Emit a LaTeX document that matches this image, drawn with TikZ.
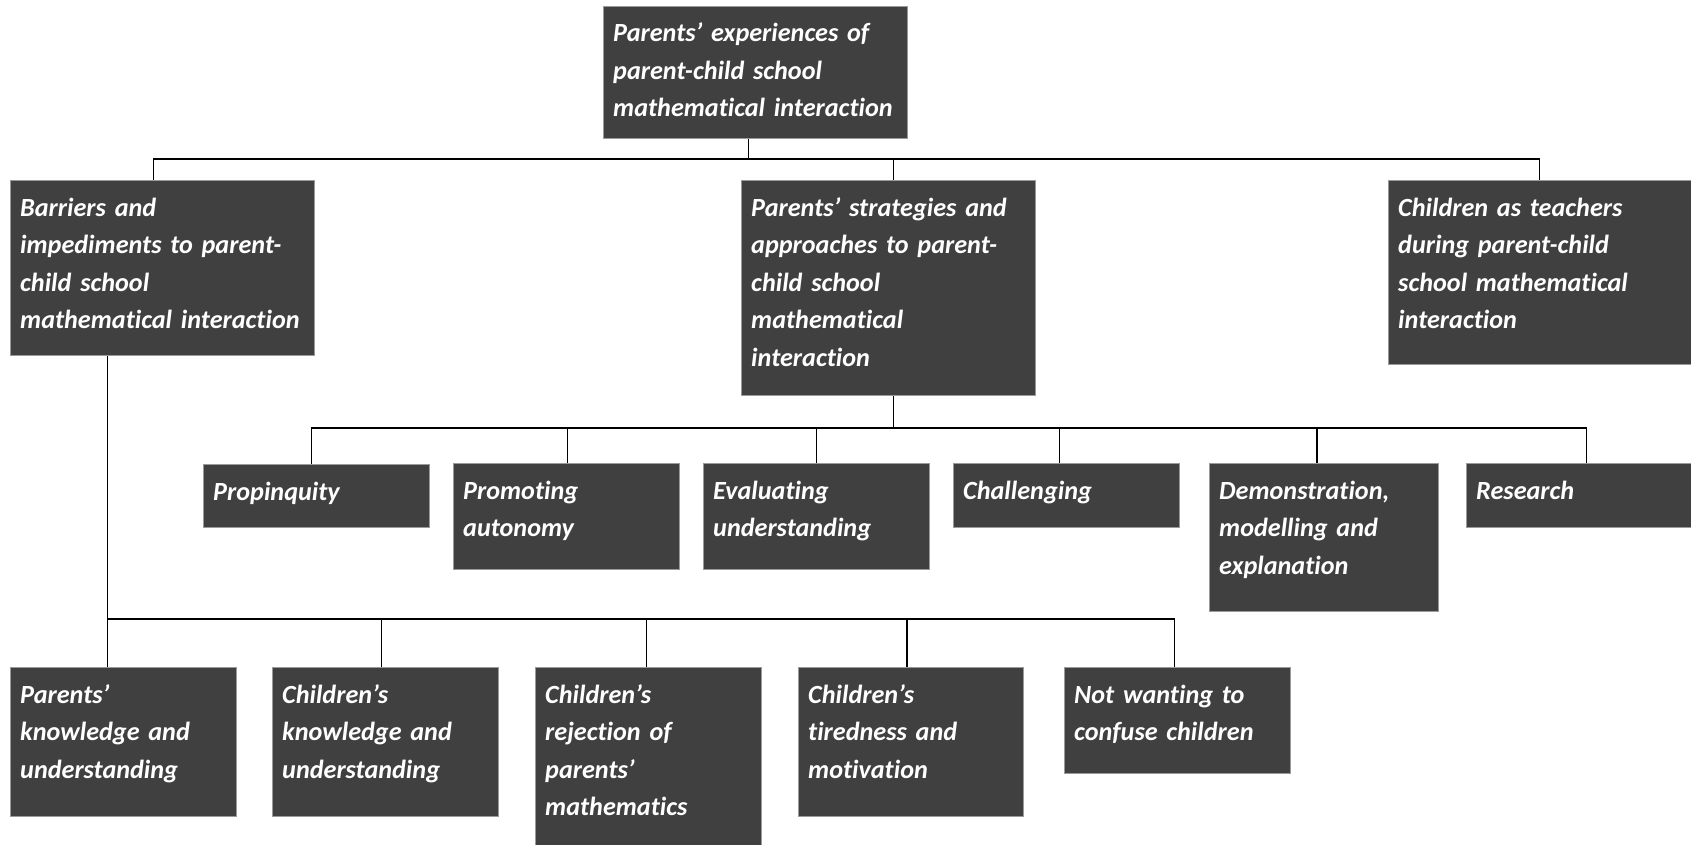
\documentclass[tikz,border=0pt]{standalone}
\usepackage{fontspec}
\setmainfont{Carlito}[Ligatures=NoCommon]
\definecolor{boxgray}{HTML}{404040}
\definecolor{boxedge}{HTML}{9A9A9A}

\tikzset{
  box/.style={fill=boxgray, draw=boxedge, line width=0.8pt, inner sep=0pt, anchor=north west},
  boxtext/.style={anchor=base west, inner sep=0pt, text=white, align=left, text width=340pt,
    font=\fontsize{26.2}{37.5}\selectfont\bfseries\itshape},
  link/.style={line width=1.8pt}
}

\begin{document}
\begin{tikzpicture}[x=1pt, y=-1pt]
    \useasboundingbox (0,0) rectangle (1691,845);

    % 1. top box
    \node[box, minimum width=304pt, minimum height=132pt] (top) at (603,6) {};
    \node[boxtext] (top-t) at ([xshift=10pt,yshift=-36pt]top.north west) {Parents’ experiences of\\parent-child school\\mathematical interaction};

    % 2. three themes
    \node[box, minimum width=304pt, minimum height=175pt] (barr) at (10,180) {};
    \node[boxtext] (barr-t) at ([xshift=10pt,yshift=-36pt]barr.north west) {Barriers and\\impediments to parent-\\child school\\mathematical interaction};
    \node[box, minimum width=294pt, minimum height=215pt] (strat) at (741,180) {};
    \node[boxtext] (strat-t) at ([xshift=10pt,yshift=-36pt]strat.north west) {Parents’ strategies and\\approaches to parent-\\child school\\mathematical\\interaction};
    \node[box, minimum width=310pt, minimum height=184pt] (teach) at (1388,180) {};
    \node[boxtext] (teach-t) at ([xshift=10pt,yshift=-36pt]teach.north west) {Children as teachers\\during parent-child\\school mathematical\\interaction};

    % 3. strategies
    \node[box, minimum width=226pt, minimum height=63pt] (prop) at (203,464) {};
    \node[boxtext] (prop-t) at ([xshift=10pt,yshift=-36pt]prop.north west) {Propinquity};
    \node[box, minimum width=226pt, minimum height=106pt] (prom) at (453,463) {};
    \node[boxtext] (prom-t) at ([xshift=10pt,yshift=-36pt]prom.north west) {Promoting\\autonomy};
    \node[box, minimum width=226pt, minimum height=106pt] (eval) at (703,463) {};
    \node[boxtext] (eval-t) at ([xshift=10pt,yshift=-36pt]eval.north west) {Evaluating\\understanding};
    \node[box, minimum width=226pt, minimum height=64pt] (chal) at (953,463) {};
    \node[boxtext] (chal-t) at ([xshift=10pt,yshift=-36pt]chal.north west) {Challenging};
    \node[box, minimum width=229pt, minimum height=148pt] (demo) at (1209,463) {};
    \node[boxtext] (demo-t) at ([xshift=10pt,yshift=-36pt]demo.north west) {Demonstration,\\modelling and\\explanation};
    \node[box, minimum width=232pt, minimum height=64pt] (res) at (1466,463) {};
    \node[boxtext] (res-t) at ([xshift=10pt,yshift=-36pt]res.north west) {Research};

    % 4. barriers
    \node[box, minimum width=226pt, minimum height=149pt] (pk) at (10,667) {};
    \node[boxtext] (pk-t) at ([xshift=10pt,yshift=-36pt]pk.north west) {Parents’\\knowledge and\\understanding};
    \node[box, minimum width=226pt, minimum height=149pt] (ck) at (272,667) {};
    \node[boxtext] (ck-t) at ([xshift=10pt,yshift=-36pt]ck.north west) {Children’s\\knowledge and\\understanding};
    \node[box, minimum width=226pt, minimum height=190pt] (rej) at (535,667) {};
    \node[boxtext] (rej-t) at ([xshift=10pt,yshift=-36pt]rej.north west) {Children’s\\rejection of\\parents’\\mathematics};
    \node[box, minimum width=225pt, minimum height=149pt] (tired) at (798,667) {};
    \node[boxtext] (tired-t) at ([xshift=10pt,yshift=-36pt]tired.north west) {Children’s\\tiredness and\\motivation};
    \node[box, minimum width=226pt, minimum height=106pt] (nw) at (1064,667) {};
    \node[boxtext] (nw-t) at ([xshift=10pt,yshift=-36pt]nw.north west) {Not wanting to\\confuse children};

    % 5. connectors
    \coordinate (bus1) at (0,159);
    \coordinate (bus2) at (0,428);
    \coordinate (bus3) at (0,619);

    \draw[link] ([xshift=-7pt]top.south) -- ([xshift=-7pt]top.south |- bus1);
    \draw[link] ([xshift=-9pt]barr.north) |- ([xshift=-4pt]teach.north |- bus1) -- ([xshift=-4pt]teach.north);
    \draw[link] ([xshift=5pt]strat.north) -- ([xshift=5pt]strat.north |- bus1);

    \draw[link] ([xshift=5pt]strat.south) -- ([xshift=5pt]strat.south |- bus2);
    \draw[link] ([xshift=-5pt]prop.north) |- ([xshift=4pt]res.north |- bus2) -- ([xshift=4pt]res.north);
    \foreach \n/\dx in {prom/1, eval/0, chal/-7, demo/-7}
        \draw[link] ([xshift=\dx pt]\n.north) -- ([xshift=\dx pt]\n.north |- bus2);

    \draw[link] ([xshift=-55pt]barr.south) -- ([xshift=-16pt]pk.north);
    \draw[link] ([xshift=-16pt]pk.north |- bus3) -| ([xshift=-3pt]nw.north);
    \foreach \n/\dx in {ck/-4, rej/-2, tired/-4}
        \draw[link] ([xshift=\dx pt]\n.north) -- ([xshift=\dx pt]\n.north |- bus3);

\end{tikzpicture}
\end{document}
